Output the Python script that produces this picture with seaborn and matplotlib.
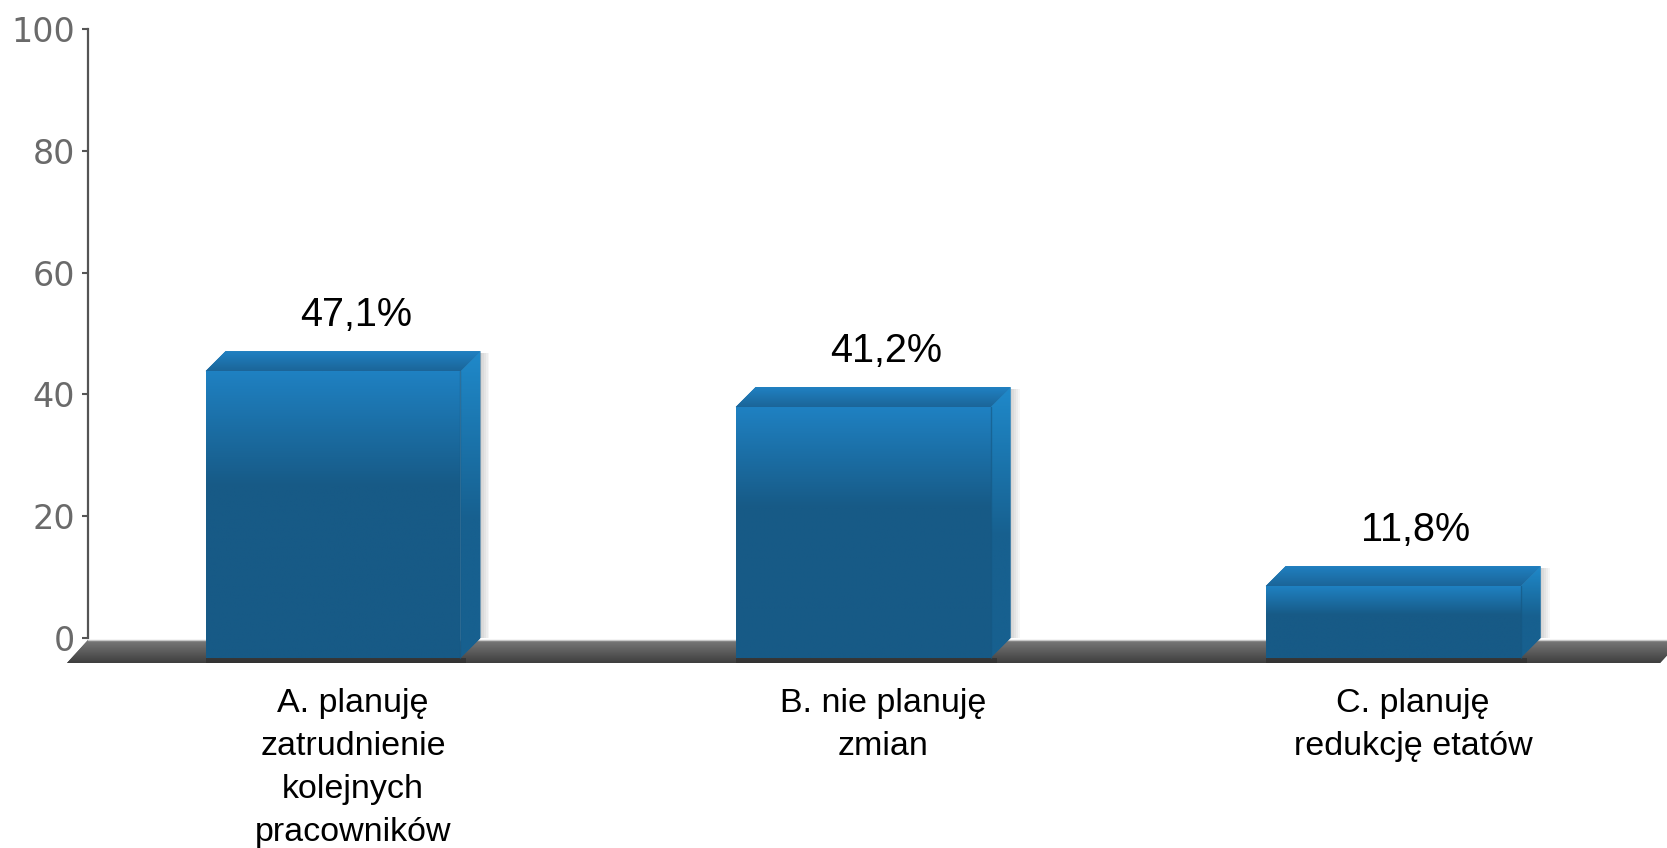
import numpy as np
import matplotlib
matplotlib.use("Agg")
import matplotlib.pyplot as plt
from matplotlib.patches import Polygon, Rectangle
from matplotlib.colors import LinearSegmentedColormap
import seaborn as sns

# dane
categories = ['A. planuję\nzatrudnienie\nkolejnych\npracowników',
              'B. nie planuję\nzmian',
              'C. planuję\nredukcję etatów']
values = [47.1, 41.2, 11.8]
value_labels = ['47,1%', '41,2%', '11,8%']
yticks = [0, 20, 40, 60, 80, 100]

sns.set_theme(style='white')
plt.rcParams['font.family'] = ['DejaVu Sans']

fig = plt.figure(figsize=(16.67, 8.48), dpi=100)
ax = fig.add_axes([88 / 1667, 210 / 848, 1579 / 1667, 609 / 848])

bar_w = 0.481
sns.barplot(x=categories, y=values, ax=ax, width=bar_w, color='#175a86',
            saturation=1, zorder=3)
ax.set_xlim(-0.5, 2.479)
ax.set_ylim(0, 100)

# glebokosc efektu 3D (20 px) w jednostkach danych
inv = ax.transData.inverted()
p0 = inv.transform((0, 0))
p1 = inv.transform((20, 20))
ddx, ddy = p1[0] - p0[0], p1[1] - p0[1]

front_cmap = LinearSegmentedColormap.from_list('front', ['#175a86', '#1f81c2'])
side_cmap = LinearSegmentedColormap.from_list('side', ['#17608f', '#1f89ca'])
top_cmap = LinearSegmentedColormap.from_list('top', ['#1b6598', '#2081c3'])
floor_cmap = LinearSegmentedColormap.from_list('floor', ['#3e3e3e', '#7a7a7a'])

t = np.linspace(0, 1, 256).reshape(-1, 1)
grad_front = np.clip((t - 0.6) / 0.4, 0, 1)
grad_side = np.clip((t - 0.45) / 0.55, 0, 1)
grad_lin = t


def grad_fill(grad, cmap, extent, poly, z):
    poly.set_transform(ax.transData)
    im = ax.imshow(grad, cmap=cmap, extent=extent, aspect='auto', origin='lower',
                   interpolation='bilinear', vmin=0, vmax=1, zorder=z)
    im.set_clip_box(fig.bbox)
    im.set_clip_path(poly)
    return im


# podloga
fx0, fx1 = -0.5, 2.466
fy_top, fy_bot = -0.33, -4.1
fdx = ddx * 21 / 20
floor = Polygon([(fx0, fy_top), (fx1 + fdx, fy_top), (fx1, fy_bot), (fx0 - fdx, fy_bot)],
                closed=True, facecolor='#5a5a5a', edgecolor='none', clip_on=False, zorder=1)
ax.add_patch(floor)
grad_fill(grad_lin, floor_cmap, (fx0 - fdx, fx1 + fdx, fy_bot, fy_top), floor, 1.1)
ax.plot([fx0, fx1 + fdx], [fy_top, fy_top], color='#c8c8c8', lw=1, clip_on=False, zorder=1.2)

for p, lab in zip(ax.patches[:len(values)], value_labels):
    x0 = p.get_x()
    w = p.get_width()
    v = p.get_height()
    x1 = x0 + w
    cx = x0 + w / 2

    # cien z prawej strony
    for k in range(1, 6):
        sh = Rectangle((x1, 0), ddx * 0.09 * k, v - ddy * 0.1, facecolor='#000000',
                       alpha=0.035, edgecolor='none', clip_on=False, zorder=1.5)
        ax.add_patch(sh)
    # cien pod slupkiem
    ax.add_patch(Rectangle((x0 - ddx, -ddy - 0.9), w + ddx * 0.3, 0.9, facecolor='#2a2a2a',
                           alpha=0.6, edgecolor='none', clip_on=False, zorder=1.6))

    # sciana przednia
    p.set_xy((x0 - ddx, -ddy))
    p.set_clip_on(False)
    p.set_edgecolor('none')
    front = Polygon([(x0 - ddx, -ddy), (x1 - ddx, -ddy), (x1 - ddx, v - ddy), (x0 - ddx, v - ddy)],
                    closed=True)
    grad_fill(grad_front, front_cmap, (x0 - ddx, x1 - ddx, -ddy, v - ddy), front, 3.1)

    # sciana boczna
    side = Polygon([(x1, v), (x1, 0), (x1 - ddx, -ddy), (x1 - ddx, v - ddy)],
                   closed=True, facecolor='#18679b', edgecolor='none', clip_on=False, zorder=3)
    ax.add_patch(side)
    grad_fill(grad_side, side_cmap, (x1 - ddx, x1, -ddy, v), side, 3.1)
    ax.plot([x1 - ddx, x1 - ddx], [-ddy, v - ddy], color='#15557f', lw=1, alpha=0.6,
            clip_on=False, zorder=3.2)

    # sciana gorna
    top = Polygon([(x0, v), (x1, v), (x1 - ddx, v - ddy), (x0 - ddx, v - ddy)],
                  closed=True, facecolor='#1d73ad', edgecolor='none', clip_on=False, zorder=3)
    ax.add_patch(top)
    grad_fill(grad_lin, top_cmap, (x0 - ddx, x1, v - ddy, v), top, 3.1)

    ax.text(cx + 0.005, v + 6.0, lab, ha='center', va='center', fontsize=28.5,
            family='Liberation Sans', color='#000000', zorder=5)

ax.set_xlim(-0.5, 2.479)
ax.set_ylim(0, 100)
ax.set_yticks(yticks)
ax.set_xticks(range(len(categories)))
ax.set_xticklabels(categories, fontsize=24.5, family='Liberation Sans',
                   color='#000000', linespacing=1.5)
ax.tick_params(axis='x', length=0, pad=36)
ax.tick_params(axis='y', length=4.3, width=1.5, color='#555555', labelsize=24,
               labelcolor='#6a6a6a', pad=5, left=True)
ax.set_xlabel('')
ax.set_ylabel('')
ax.grid(False)
for s in ['top', 'right', 'bottom']:
    ax.spines[s].set_visible(False)
ax.spines['left'].set_color('#555555')
ax.spines['left'].set_linewidth(1.6)
ax.spines['left'].set_zorder(4)

fig.savefig('out.png', dpi=100, facecolor='white')
